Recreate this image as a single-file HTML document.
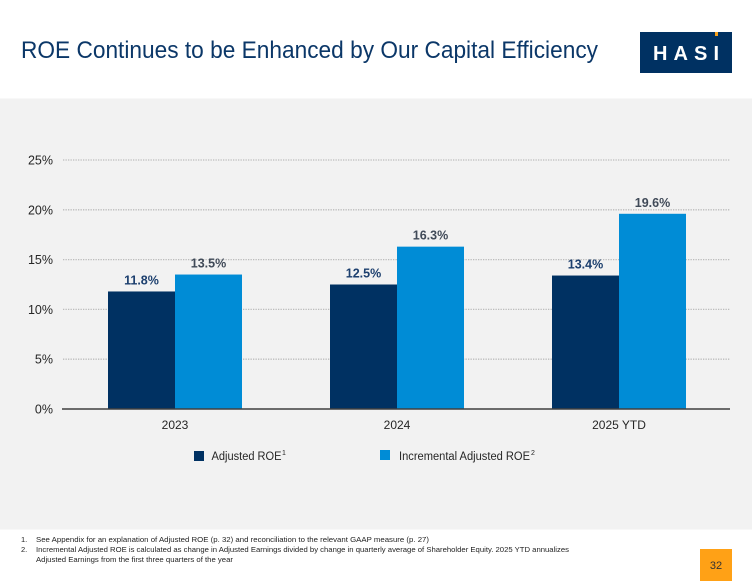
<!DOCTYPE html>
<html lang="en">
<head>
<meta charset="utf-8">
<title>ROE Continues to be Enhanced by Our Capital Efficiency</title>
<style>
html,body{margin:0;padding:0;background:#fff;}
body{width:752px;height:586px;overflow:hidden;}
svg{display:block;font-family:"Liberation Sans",sans-serif;}
</style>
</head>
<body>
<svg id="slide" width="752" height="586" viewBox="0 0 752 586" xmlns="http://www.w3.org/2000/svg">
  <rect x="0" y="0" width="752" height="586" fill="#ffffff"/>
  <rect x="0" y="98.5" width="752" height="431" fill="#f2f2f2"/>
  <text x="21" y="58" font-size="24" fill="#0b3768" textLength="577" lengthAdjust="spacingAndGlyphs">ROE Continues to be Enhanced by Our Capital Efficiency</text>
  <g>
    <rect x="640" y="32" width="92" height="41" fill="#003162"/>
    <rect x="715" y="32" width="3" height="4" fill="#f9a11b"/>
    <text x="653" y="60" font-size="20" font-weight="bold" fill="#ffffff" textLength="66" lengthAdjust="spacing">HASI</text>
  </g>
  <g id="chart"></g>
  <g>
    <g>
      <rect x="194" y="451" width="10" height="10" fill="#003162"/>
      <text x="211.500" y="460" font-size="11.500" fill="#262626" textLength="70" lengthAdjust="spacingAndGlyphs">Adjusted ROE</text>
      <text x="282" y="455" font-size="7" fill="#262626">1</text>
    </g>
    <g>
      <rect x="380" y="450" width="10" height="10" fill="#008cd6"/>
      <text x="399" y="460" font-size="11.500" fill="#262626" textLength="131" lengthAdjust="spacingAndGlyphs">Incremental Adjusted ROE</text>
      <text x="531" y="455" font-size="7" fill="#262626">2</text>
    </g>
  </g>
  <g font-size="7.500" fill="#1f1f1f">
    <text x="21" y="542">1.</text>
    <text x="36" y="542" textLength="393" lengthAdjust="spacingAndGlyphs">See Appendix for an explanation of Adjusted ROE (p. 32) and reconciliation to the relevant GAAP measure (p. 27)</text>
    <text x="21" y="552">2.</text>
    <text x="36" y="552" textLength="533" lengthAdjust="spacingAndGlyphs">Incremental Adjusted ROE is calculated as change in Adjusted Earnings divided by change in quarterly average of Shareholder Equity. 2025 YTD annualizes</text>
    <text x="36" y="562" textLength="197" lengthAdjust="spacingAndGlyphs">Adjusted Earnings from the first three quarters of the year</text>
  </g>
  <g>
    <rect x="700" y="549" width="32" height="32" fill="#ffa116"/>
    <text x="716" y="569" font-size="11" fill="#333333" text-anchor="middle">32</text>
  </g>
</svg>
<script>
var categories = ['2023', '2024', '2025 YTD'];
var adjustedRoe = [11.8, 12.5, 13.4];
var incrementalRoe = [13.5, 16.3, 19.6];
var adjustedLabels = ['11.8%', '12.5%', '13.4%'];
var incrementalLabels = ['13.5%', '16.3%', '19.6%'];
var yTicks = [0, 5, 10, 15, 20, 25];
var yTickLabels = ['0%', '5%', '10%', '15%', '20%', '25%'];

var NS = 'http://www.w3.org/2000/svg';
var chart = document.getElementById('chart');
var axisLeft = 64;
var axisRight = 730;
var axisBottom = 409;
var pxPerUnit = 9.96;
var barWidth = 67;

function yScale(v) { return axisBottom - v * pxPerUnit; }
function xCenter(i) { return axisLeft + (axisRight - axisLeft) / categories.length * (i + 0.5); }
function make(tag, attrs, text) {
  var el = document.createElementNS(NS, tag);
  for (var k in attrs) el.setAttribute(k, attrs[k]);
  if (text !== undefined) el.textContent = text;
  chart.appendChild(el);
  return el;
}

yTicks.forEach(function (t, i) {
  if (t !== 0) {
    var grid = make('line', {x1: 63, x2: axisRight, y1: yScale(t), y2: yScale(t), stroke: '#bcbcbc', 'stroke-width': 1.3, 'stroke-dasharray': '1.3 1.2'});
    
    
  }
  var tick = make('text', {x: 53, y: yScale(t) + 4.5, 'font-size': 12.5, fill: '#262626', 'text-anchor': 'end'}, yTickLabels[i]);
  
  
});

categories.forEach(function (c, i) {
  var cx = xCenter(i);
  var a = make('rect', {x: cx - barWidth, y: yScale(adjustedRoe[i]), width: barWidth, height: axisBottom - yScale(adjustedRoe[i]), fill: '#003162'});
  
  
  var b = make('rect', {x: cx, y: yScale(incrementalRoe[i]), width: barWidth, height: axisBottom - yScale(incrementalRoe[i]), fill: '#008cd6'});
  
  
  var la = make('text', {x: cx - barWidth / 2, y: yScale(adjustedRoe[i]) - 7, 'font-size': 12.5, 'font-weight': 'bold', fill: '#1c3f6e', 'text-anchor': 'middle'}, adjustedLabels[i]);
  
  
  var lb = make('text', {x: cx + barWidth / 2, y: yScale(incrementalRoe[i]) - 7, 'font-size': 12.5, 'font-weight': 'bold', fill: '#404a58', 'text-anchor': 'middle'}, incrementalLabels[i]);
  
  
  var cat = make('text', {x: cx, y: 429, 'font-size': 12, fill: '#262626', 'text-anchor': 'middle'}, c);
  
  
});

var axis = make('line', {x1: 62, x2: axisRight, y1: axisBottom, y2: axisBottom, stroke: '#404040', 'stroke-width': 1.5});


</script>
</body>
</html>
